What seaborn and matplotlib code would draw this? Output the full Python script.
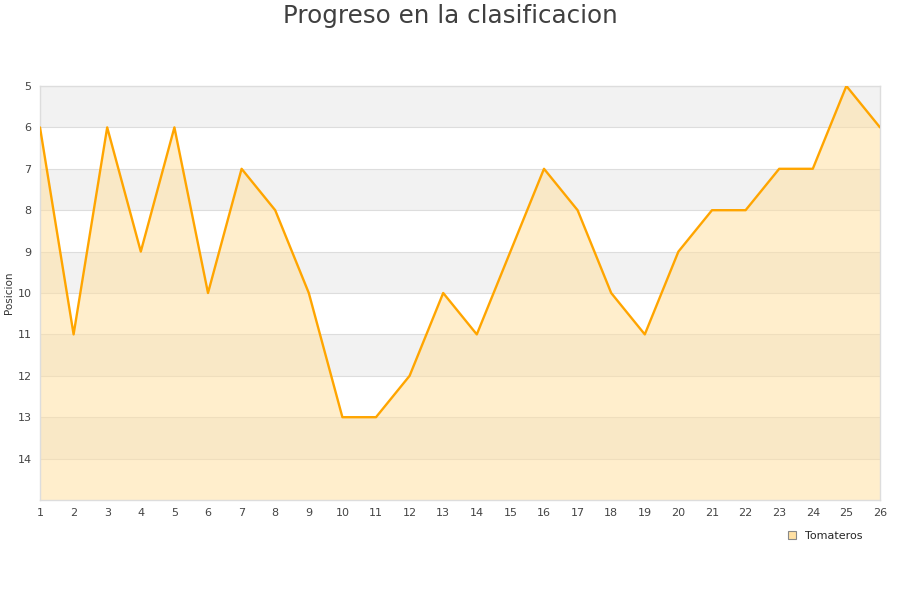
import matplotlib
matplotlib.use('Agg')
import matplotlib.pyplot as plt
import seaborn as sns
import pandas as pd
from matplotlib.patches import Patch

# datos
jornadas = list(range(1, 27))
posicion = [6, 11, 6, 9, 6, 10, 7, 8, 10, 13, 13, 12, 10, 11, 9, 7, 8, 10, 11, 9, 8, 8, 7, 7, 5, 6]
equipo = 'Tomateros'
yticks = list(range(5, 15))

df = pd.DataFrame({'Jornada': jornadas, 'Posicion': posicion})

sns.set_style('white')
plt.rcParams['font.family'] = ['DejaVu Sans']

fig = plt.figure(figsize=(9, 6), dpi=100)
ax = fig.add_axes([40 / 900, 1 - 500 / 600, 840 / 900, 414 / 600])

# bandas alternas
for y0 in range(5, 15, 2):
    ax.axhspan(y0, y0 + 1, color='#f2f2f2', zorder=0, lw=0)
for y in range(6, 15):
    ax.axhline(y, color='#dddddd', lw=0.8, zorder=1)

ax.fill_between(df['Jornada'], df['Posicion'], 15, color='#ffe0a3', alpha=0.55, lw=0, zorder=2)
sns.lineplot(data=df, x='Jornada', y='Posicion', ax=ax, color='#ffa500', lw=1.7, zorder=3)

ax.set_xlim(1, 26)
ax.set_ylim(15, 5)
ax.set_xticks(jornadas)
ax.set_yticks(yticks)
ax.tick_params(axis='both', labelsize=8, colors='#444444', length=0, pad=6)
ax.set_xlabel('')
ax.set_ylabel('Posicion', fontsize=7.5, color='#333333')
ax.yaxis.set_label_coords(-26 / 840, 0.5)
for s in ax.spines.values():
    s.set_color('#dddddd')
    s.set_linewidth(1)

fig.text(0.5, 1 - 16 / 600, 'Progreso en la clasificacion', fontsize=17.7, color='#404040',
         ha='center', va='center')

handle = Patch(facecolor='#ffe0a3', edgecolor='#888888', lw=0.8)
fig.legend([handle], [equipo], loc='center', bbox_to_anchor=(825 / 900, 1 - 536 / 600),
           frameon=False, fontsize=8, handlelength=0.7, handleheight=0.7, handletextpad=0.8)

fig.savefig('out.png', dpi=100)
